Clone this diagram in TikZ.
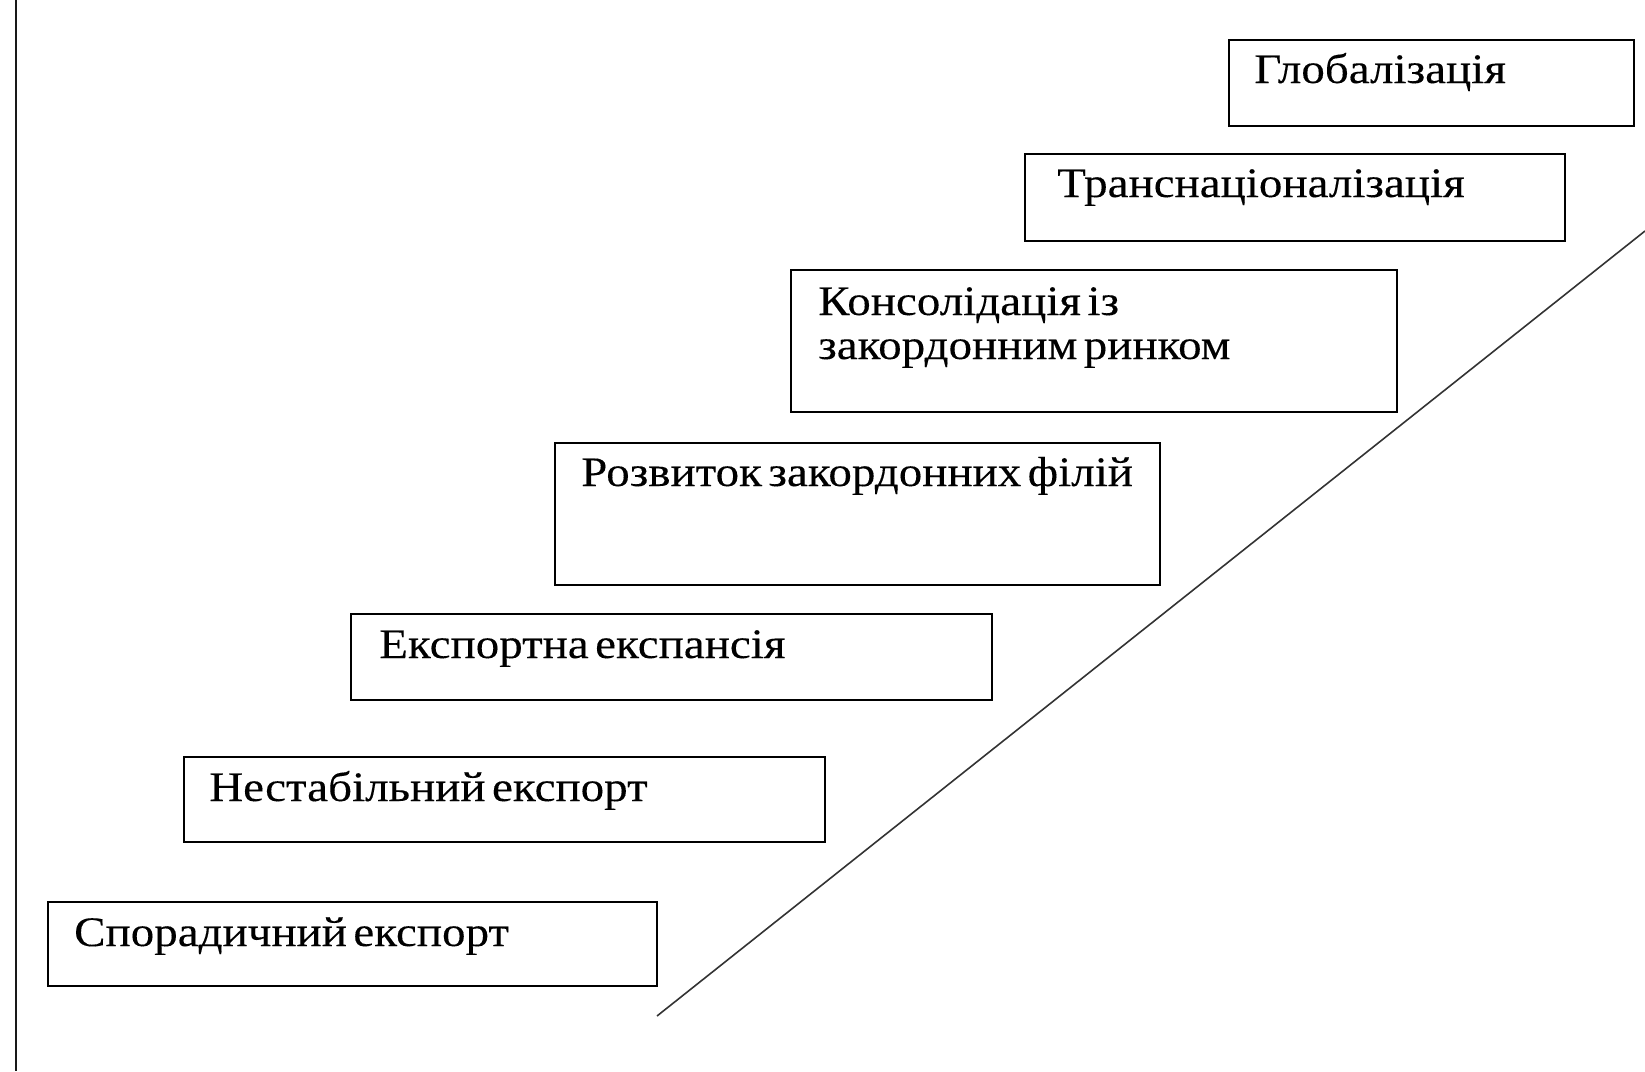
\documentclass[tikz,border=0pt]{standalone}
\usepackage{fontspec}
\setmainfont{Liberation Serif}[FakeStretch=1.12, WordSpace=0.55, FakeBold=0.2]
\begin{document}
\begin{tikzpicture}[x=1pt,y=-1pt,
  box/.style={draw=black, line width=2pt, rectangle, inner sep=0pt},
  lbl/.style={anchor=base west, inner sep=0pt, font=\fontsize{42}{46}\selectfont}]
\useasboundingbox (0,0) rectangle (1645,1071);
% axis and diagonal
\coordinate (v1) at (16,0);
\coordinate (v2) at (16,1071);
\draw[line width=2pt, black!90] (v1) -- (v2);
\coordinate (d1) at (657,1016);
\coordinate (d2) at (1645,231);
\draw[line width=1.6pt, black!80] (d1) -- (d2);
% boxes
\node[box, minimum width=609pt, minimum height=84pt] (b1) at (352.5,944) {};
\node[box, minimum width=641pt, minimum height=85pt] (b2) at (504.5,799.5) {};
\node[box, minimum width=641pt, minimum height=86pt] (b3) at (671.5,657) {};
\node[box, minimum width=605pt, minimum height=142pt] (b4) at (857.5,514) {};
\node[box, minimum width=606pt, minimum height=142pt] (b5) at (1094,341) {};
\node[box, minimum width=540pt, minimum height=87pt] (b6) at (1295,197.5) {};
\node[box, minimum width=405pt, minimum height=86pt] (b7) at (1431.5,83) {};
% labels
\node[lbl, xshift=27pt, yshift=-45pt] (t1) at (b1.north west) {Спорадичний експорт};
\node[lbl, xshift=26pt, yshift=-45pt] (t2) at (b2.north west) {Нестабільний експорт};
\node[lbl, xshift=29pt, yshift=-45pt] (t3) at (b3.north west) {Експортна експансія};
\node[lbl, xshift=27pt, yshift=-44pt] (t4) at (b4.north west) {Розвиток закордонних філій};
\node[lbl, xshift=28pt, yshift=-46pt] (t5a) at (b5.north west) {Консолідація із};
\node[lbl, xshift=28pt, yshift=-90pt] (t5b) at (b5.north west) {закордонним ринком};
\node[lbl, xshift=33pt, yshift=-44pt] (t6) at (b6.north west) {Транснаціоналізація};
\node[lbl, xshift=26pt, yshift=-44pt] (t7) at (b7.north west) {Глобалізація};
\end{tikzpicture}
\end{document}
